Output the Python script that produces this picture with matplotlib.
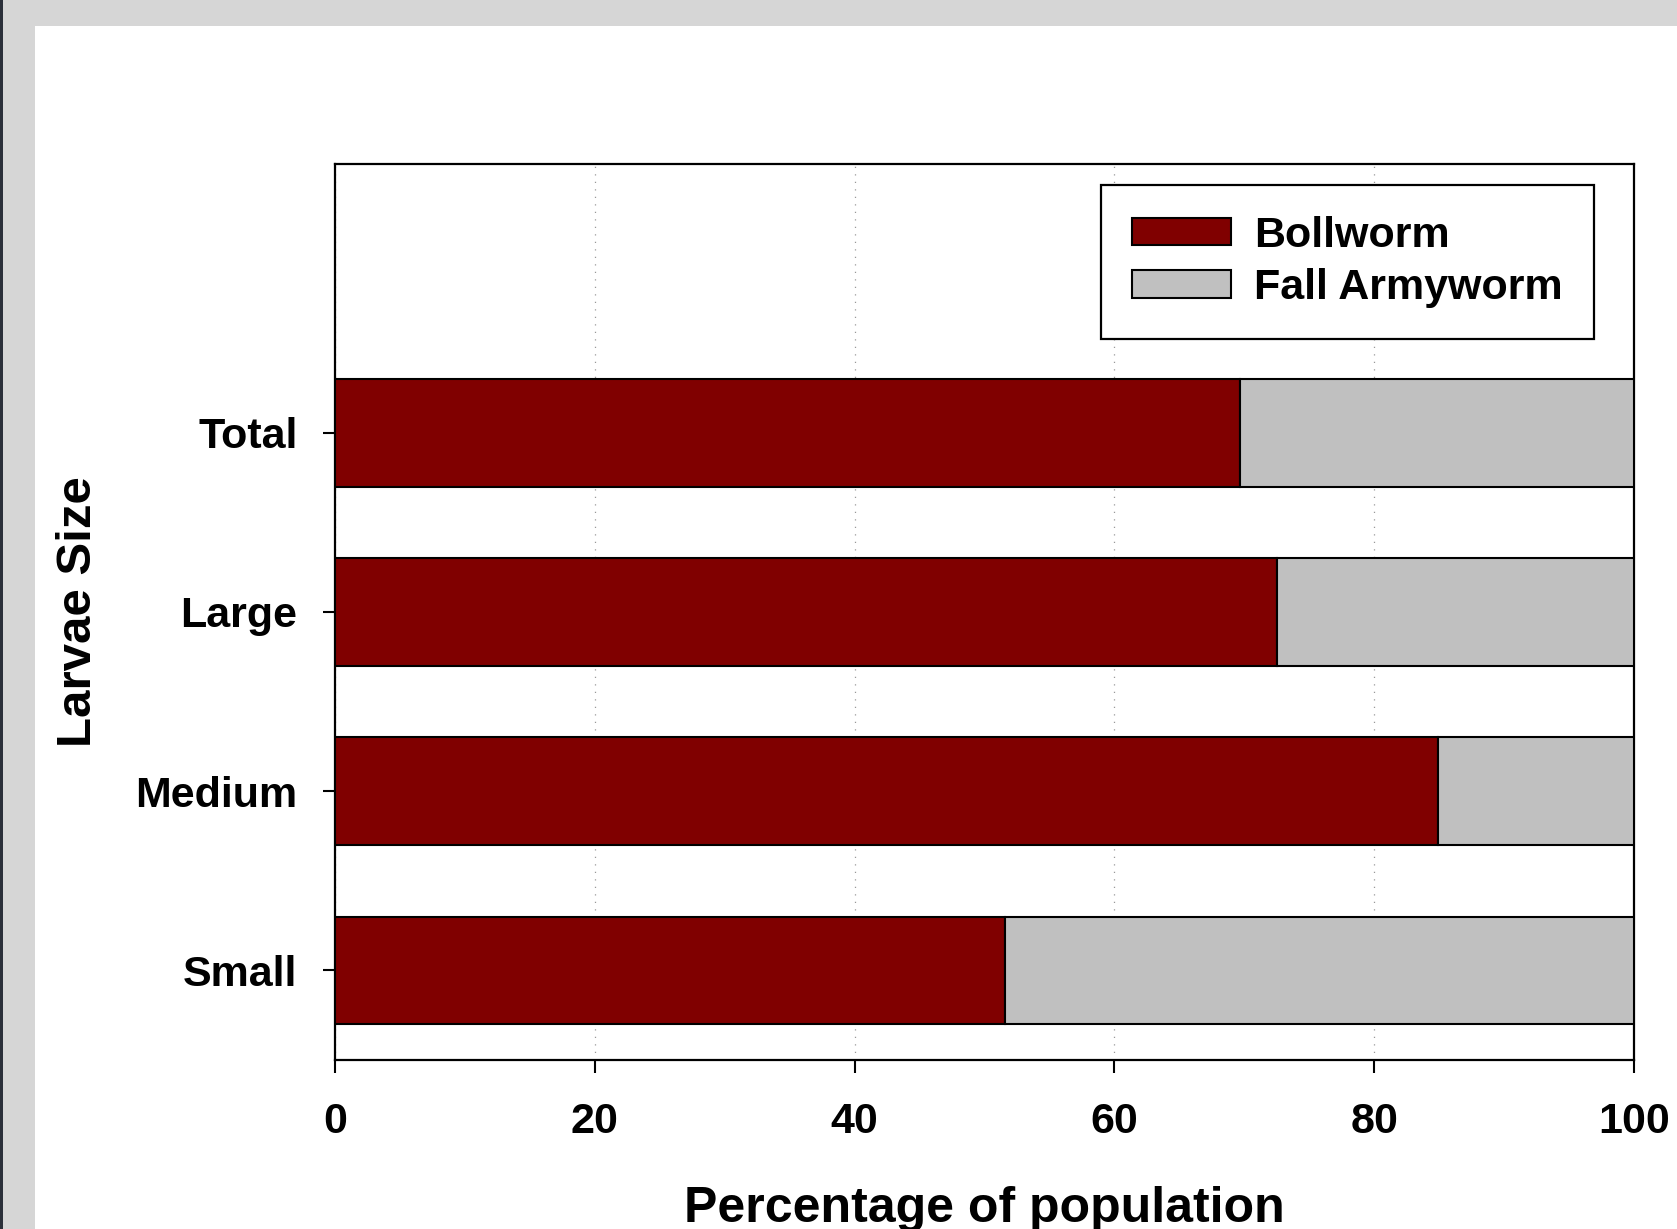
import matplotlib
matplotlib.use('Agg')
import matplotlib.pyplot as plt
from matplotlib.patches import Rectangle

# larvae size categories, bottom to top
sizes = ['Small', 'Medium', 'Large', 'Total']
bollworm = [51.6, 84.9, 72.5, 69.7]
fall_armyworm = [48.4, 15.1, 27.5, 30.3]
x_ticks = [0, 20, 40, 60, 80, 100]

W, H = 1677, 1229


def draw_chart():
    plt.rcParams['font.family'] = ['Liberation Sans', 'DejaVu Sans']
    plt.rcParams['font.weight'] = 'bold'

    fig = plt.figure(figsize=(W / 100, H / 100), dpi=100, facecolor='white')

    # gray frame around the plot page (top and left bands)
    fig.add_artist(Rectangle((0, 1 - 26 / H), 1, 26 / H, transform=fig.transFigure,
                             facecolor='#d6d6d6', edgecolor='none', zorder=0))
    fig.add_artist(Rectangle((0, 0), 35 / W, 1, transform=fig.transFigure,
                             facecolor='#d6d6d6', edgecolor='none', zorder=0))
    fig.add_artist(Rectangle((0, 0), 2.5 / W, 1, transform=fig.transFigure,
                             facecolor='#2b303a', edgecolor='none', zorder=1))

    left, right, top, bottom = 335, 1634, 164, 1060
    ax = fig.add_axes([left / W, 1 - bottom / H, (right - left) / W, (bottom - top) / H])

    y = range(len(sizes))
    ax.barh(y, bollworm, height=0.6, color='#800000', edgecolor='black',
            linewidth=1.5, label='Bollworm', zorder=3)
    ax.barh(y, fall_armyworm, left=bollworm, height=0.6, color='#c0c0c0',
            edgecolor='black', linewidth=1.5, label='Fall Armyworm', zorder=3)

    ax.set_xlim(0, 100)
    ax.set_ylim(-0.5, 4.5)
    ax.set_xticks(x_ticks)
    ax.set_xticklabels([str(t) for t in x_ticks])
    ax.set_yticks(list(y))
    ax.set_yticklabels(sizes)

    ax.tick_params(axis='x', direction='out', length=9, width=1.5, labelsize=31, pad=21)
    ax.tick_params(axis='y', direction='out', length=9, width=1.5, labelsize=31, pad=18)
    for lab in ax.get_xticklabels() + ax.get_yticklabels():
        lab.set_fontweight('bold')
    for sp in ax.spines.values():
        sp.set_linewidth(1.6)

    ax.grid(axis='x', linestyle=(0, (1, 5)), color='#999999', linewidth=0.9, zorder=0)
    ax.set_axisbelow(True)

    ax.set_ylabel('Larvae Size', fontsize=35.5, fontweight='bold')
    ax.yaxis.set_label_coords((101 - left) / (right - left), 0.5)
    fig.text((left + right) / 2 / W, 1 - 1222 / H, 'Percentage of population',
             ha='center', va='baseline', fontsize=36, fontweight='bold')

    leg = ax.legend(loc='upper right', bbox_to_anchor=(1594 / W, 1 - 185 / H),
                    bbox_transform=fig.transFigure, fontsize=31, frameon=True,
                    fancybox=False, framealpha=1, edgecolor='black',
                    handlelength=2.3, handleheight=0.6, handletextpad=0.55,
                    labelspacing=0.28, borderpad=0.72, borderaxespad=0)
    leg.get_frame().set_linewidth(1.6)
    for t in leg.get_texts():
        t.set_fontweight('bold')

    fig.savefig('out.png', dpi=100, facecolor='white')


def main():
    draw_chart()


if __name__ == '__main__':
    main()
